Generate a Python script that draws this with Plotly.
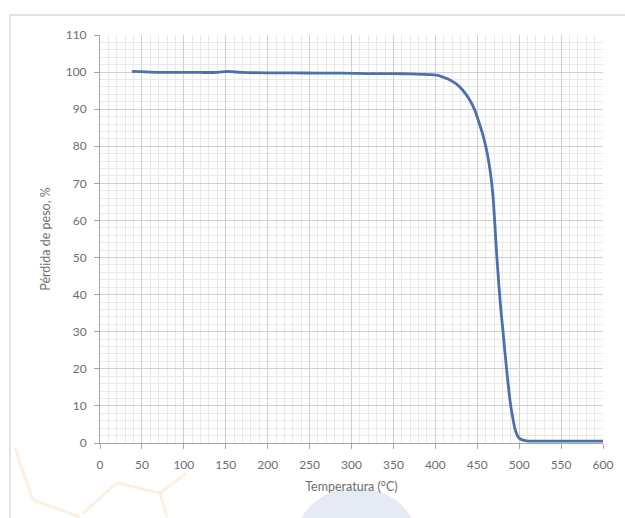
import plotly.graph_objects as go

# Thermogravimetric curve: temperature (°C) vs. weight remaining (%)
temperatura = [38, 42, 48, 60, 80, 100, 120, 140, 152, 170, 200, 230, 260, 290,
               320, 350, 370, 385, 395, 405, 412, 418, 425, 432, 441, 447, 453,
               458, 462, 465, 467, 469, 471, 473, 475, 477, 479, 481, 483, 485,
               487, 489, 491, 493, 495, 497, 499, 502, 506, 512, 530, 560, 600]
perdida = [100.1, 100.2, 100.1, 100.0, 99.9, 99.9, 99.9, 99.9, 100.2, 99.9,
           99.8, 99.8, 99.7, 99.7, 99.6, 99.6, 99.5, 99.4, 99.3, 99.0, 98.4,
           97.8, 96.8, 95.3, 92.5, 89.8, 85.8, 82.0, 78.0, 74.0, 70.5, 66.0,
           59.0, 51.5, 45.0, 39.0, 34.0, 29.5, 24.5, 20.0, 15.5, 11.6, 8.5,
           6.0, 3.8, 2.5, 1.6, 1.0, 0.7, 0.5, 0.5, 0.5, 0.5]

x_ticks = list(range(0, 601, 50))
y_ticks = list(range(0, 111, 10))

FONT = "Lato, Open Sans, sans-serif"
TXT = "#6e6e6e"

fig = go.Figure()
fig.add_trace(go.Scatter(
    x=temperatura, y=perdida, mode="lines",
    line=dict(color="#4b70b0", width=2.8, shape="spline", smoothing=0.5),
    showlegend=False,
))

axis_common = dict(
    showline=True, linecolor="#a6a6a6", linewidth=1,
    ticks="outside", ticklen=5, tickcolor="#a6a6a6",
    showgrid=True, gridcolor="#d0d0d0", gridwidth=1,
    zeroline=False,
    tickfont=dict(family=FONT, size=12, color=TXT),
    minor=dict(showgrid=True, gridcolor="#e9e9e9", gridwidth=1),
)

fig.update_xaxes(
    range=[0, 600], tickvals=x_ticks, minor_dtick=10, ticklabelstandoff=6,
    title=dict(text="Temperatura (°C)", font=dict(family=FONT, size=12.5, color=TXT), standoff=10),
    **axis_common,
)
fig.update_yaxes(
    range=[0, 110], tickvals=y_ticks, minor_dtick=2, ticklabelstandoff=5,
    title=dict(text="Pérdida de peso, %", font=dict(family=FONT, size=12.5, color=TXT), standoff=12),
    **axis_common,
)

shapes = [
    # chart frame
    dict(type="rect", xref="paper", yref="paper", x0=-0.179, y0=-0.2, x1=1.06, y1=1.049,
         line=dict(color="#d9d9d9", width=1.5), fillcolor="rgba(0,0,0,0)", layer="below"),
    # faint background emblem
    dict(type="circle", xref="paper", yref="paper", x0=0.39, x1=0.63, y0=-0.36, y1=-0.11,
         line=dict(width=0), fillcolor="rgba(150,172,212,0.25)", layer="below"),
]
orange = "rgba(245,185,120,0.22)"
segments = [
    ((15, 447), (20, 463)), ((20, 463), (33, 500)), ((33, 500), (80, 517)),
    ((83, 513), (117, 483)), ((117, 483), (160, 493)), ((160, 493), (187, 473)),
    ((160, 493), (167, 517)),
]
for (ax0, ay0), (ax1, ay1) in segments:
    shapes.append(dict(
        type="line", xref="paper", yref="paper",
        x0=(ax0 - 100) / 503, y0=(443 - ay0) / 408,
        x1=(ax1 - 100) / 503, y1=(443 - ay1) / 408,
        line=dict(color=orange, width=3), layer="below",
    ))

fig.update_layout(
    width=625, height=518,
    margin=dict(l=100, r=22, t=35, b=75),
    paper_bgcolor="white", plot_bgcolor="white",
    font=dict(family=FONT, color=TXT),
    shapes=shapes,
)

fig.write_html("out.html")
